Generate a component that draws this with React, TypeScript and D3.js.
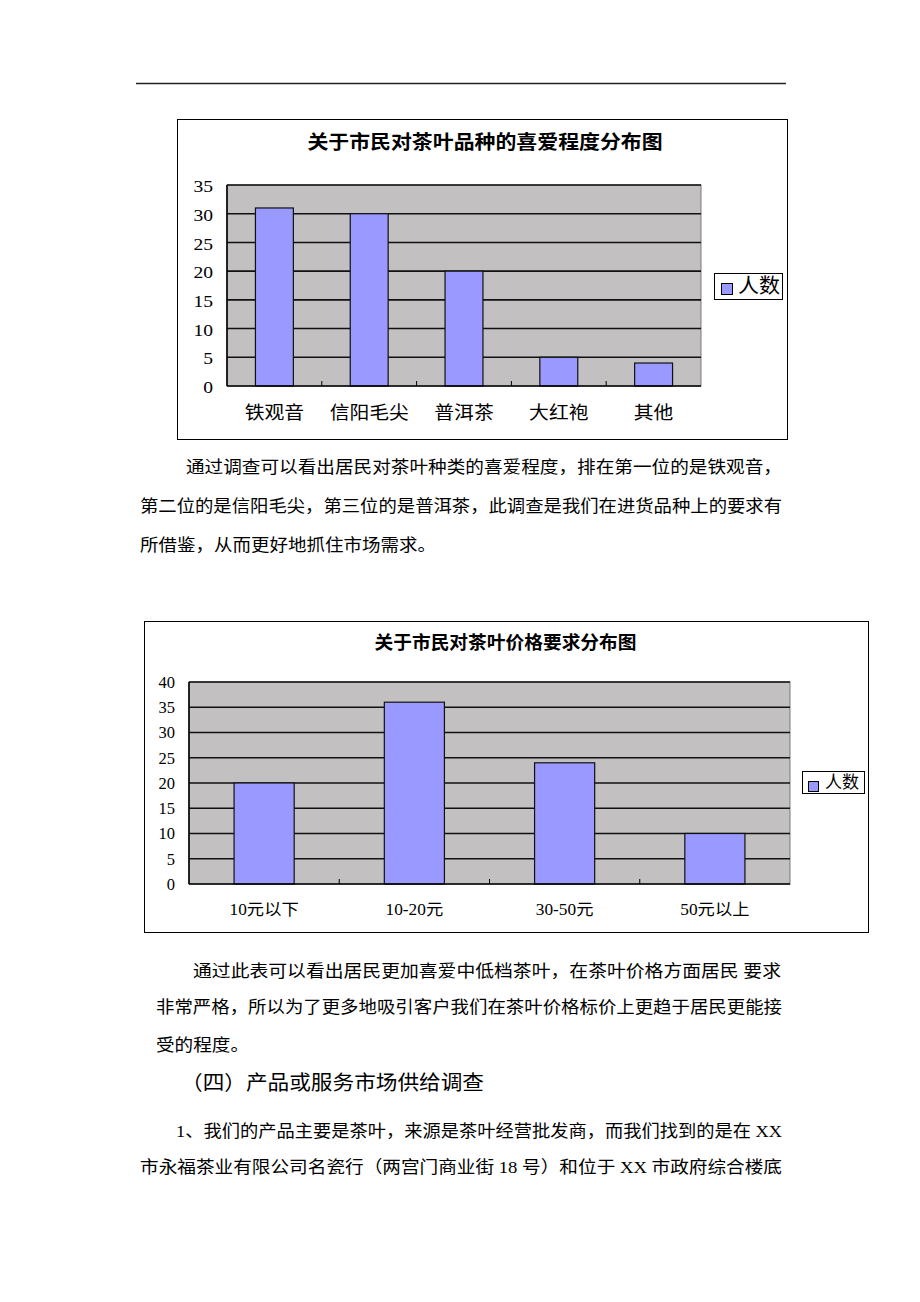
import React from 'react';
import * as d3 from 'd3';

const teaTitle = '关于市民对茶叶品种的喜爱程度分布图';
const teaCategories = ['铁观音', '信阳毛尖', '普洱茶', '大红袍', '其他'];
const teaCounts = [31, 30, 20, 5, 4];
const teaTicks = [0, 5, 10, 15, 20, 25, 30, 35];

const priceTitle = '关于市民对茶叶价格要求分布图';
const priceCategories = ['10元以下', '10-20元', '30-50元', '50元以上'];
const priceCounts = [20, 36, 24, 10];
const priceTicks = [0, 5, 10, 15, 20, 25, 30, 35, 40];

const seriesName = '人数';

const FONT = "'Liberation Serif', 'Noto Sans CJK SC', serif";
const TITLE_FONT = "'Noto Sans CJK SC', sans-serif";

type STextProps = {
  x: number; y: number; sx?: number; anchor?: string; size: number;
  weight?: string | number; family?: string; children: React.ReactNode;
};
const SText = ({ x, y, sx = 1, anchor = 'middle', size, weight = 'normal', family = FONT, children }: STextProps) => (
  <text
    transform={`translate(${x},${y}) scale(${sx},1)`}
    textAnchor={anchor as any}
    dominantBaseline="central"
    fontSize={size}
    fontWeight={weight}
    fontFamily={family}
    fill="#000"
  >
    {children}
  </text>
);

type ChartCfg = {
  frame: { x: number; y: number; w: number; h: number };
  plot: { l: number; t: number; r: number; b: number };
  title: { text: string; cx: number; cy: number; size: number; sx: number };
  cats: string[];
  vals: number[];
  ticks: number[];
  yLab: { right: number; size: number; sx: number };
  xLab: { y: number; size: number; sx: number };
  legend: { x: number; y: number; w: number; h: number; sw: number; swx: number; swy: number; tx: number; size: number; sx: number };
};

function BarChart({ cfg }: { cfg: ChartCfg }) {
  const { frame, plot, title, cats, vals, ticks, yLab, xLab, legend } = cfg;
  const yMax = d3.max(ticks) as number;
  const x = d3.scaleBand<string>().domain(cats).range([plot.l, plot.r]).paddingInner(0.6).paddingOuter(0.3);
  const y = d3.scaleLinear().domain([0, yMax]).range([plot.b, plot.t]);
  const step = x.step();
  const boundaries = d3.range(1, cats.length).map((i) => plot.l + i * step);
  return (
    <g>
      <rect x={frame.x + 0.5} y={frame.y + 0.5} width={frame.w} height={frame.h} fill="#fff" stroke="#000" strokeWidth={1} />
      <SText x={title.cx} y={title.cy} size={title.size} sx={title.sx} weight="bold" family={TITLE_FONT}>{title.text}</SText>
      <rect x={plot.l} y={plot.t} width={plot.r - plot.l} height={plot.b - plot.t} fill="#c2c0c0" stroke="#7a7a7a" strokeWidth={1} />
      {ticks.filter((t) => t > 0).map((t) => (
        <line key={'g' + t} x1={plot.l} x2={plot.r} y1={y(t)} y2={y(t)} stroke="#111" strokeWidth={1.6} />
      ))}
      {cats.map((c, i) => (
        <rect key={'b' + c} x={x(c)} y={y(vals[i])} width={x.bandwidth()} height={plot.b - y(vals[i])} fill="#9999ff" stroke="#111" strokeWidth={1.2} />
      ))}
      <line x1={plot.l} x2={plot.l} y1={plot.t} y2={plot.b} stroke="#000" strokeWidth={1.6} />
      <line x1={plot.l} x2={plot.r} y1={plot.b} y2={plot.b} stroke="#000" strokeWidth={1.6} />
      {boundaries.map((bx, i) => (
        <line key={'t' + i} x1={bx} x2={bx} y1={plot.b} y2={plot.b - 5} stroke="#000" strokeWidth={1} />
      ))}
      {ticks.map((t) => (
        <SText key={'y' + t} x={yLab.right} y={y(t) + 1} size={yLab.size} sx={yLab.sx} anchor="end">{String(t)}</SText>
      ))}
      {cats.map((c) => (
        <SText key={'x' + c} x={(x(c) as number) + x.bandwidth() / 2} y={xLab.y} size={xLab.size} sx={xLab.sx}>{c}</SText>
      ))}
      <rect x={legend.x + 0.5} y={legend.y + 0.5} width={legend.w} height={legend.h} fill="#fff" stroke="#000" strokeWidth={1} />
      <rect x={legend.swx + 0.5} y={legend.swy + 0.5} width={legend.sw} height={legend.sw} fill="#9999ff" stroke="#000" strokeWidth={1} />
      <SText x={legend.tx} y={legend.y + legend.h / 2} size={legend.size} sx={legend.sx} anchor="start">{seriesName}</SText>
    </g>
  );
}

const teaCfg: ChartCfg = {
  frame: { x: 177, y: 119, w: 610, h: 320 },
  plot: { l: 227, t: 185, r: 701, b: 386 },
  title: { text: teaTitle, cx: 485, cy: 141, size: 19, sx: 1.1 },
  cats: teaCategories,
  vals: teaCounts,
  ticks: teaTicks,
  yLab: { right: 213, size: 17.5, sx: 1.12 },
  xLab: { y: 413, size: 18, sx: 1.1 },
  legend: { x: 714, y: 273, w: 68, h: 26, sw: 11, swx: 721, swy: 283, tx: 738, size: 20, sx: 1.05 },
};

const priceCfg: ChartCfg = {
  frame: { x: 144, y: 621, w: 724, h: 311 },
  plot: { l: 189, t: 682, r: 790, b: 884 },
  title: { text: priceTitle, cx: 505.5, cy: 641, size: 18, sx: 1.04 },
  cats: priceCategories,
  vals: priceCounts,
  ticks: priceTicks,
  yLab: { right: 175, size: 16, sx: 1.03 },
  xLab: { y: 910, size: 16, sx: 1.08 },
  legend: { x: 802, y: 771, w: 62, h: 22, sw: 10, swx: 808, swy: 781, tx: 825, size: 17, sx: 1.0 },
};

type BodyLine = { x: number; y: number; w?: number; text: string; size?: number };
const bodyLines: BodyLine[] = [
  { x: 186, y: 467, w: 596, text: '通过调查可以看出居民对茶叶种类的喜爱程度，排在第一位的是铁观音，' },
  { x: 140, y: 506, w: 642, text: '第二位的是信阳毛尖，第三位的是普洱茶，此调查是我们在进货品种上的要求有' },
  { x: 140, y: 545, w: 296, text: '所借鉴，从而更好地抓住市场需求。' },
  { x: 193, y: 971, w: 588, text: '通过此表可以看出居民更加喜爱中低档茶叶，在茶叶价格方面居民 要求' },
  { x: 156, y: 1007, w: 626, text: '非常严格，所以为了更多地吸引客户我们在茶叶价格标价上更趋于居民更能接' },
  { x: 156, y: 1045, w: 93, text: '受的程度。' },
  { x: 181, y: 1083, w: 303, text: '（四）产品或服务市场供给调查', size: 20 },
  { x: 176, y: 1131, w: 606, text: '1、我们的产品主要是茶叶，来源是茶叶经营批发商，而我们找到的是在 XX' },
  { x: 140, y: 1167, w: 642, text: '市永福茶业有限公司名瓷行（两宫门商业街 18 号）和位于 XX 市政府综合楼底' },
];

export default function App() {
  return (
    <svg
      width={920}
      height={1302}
      viewBox="0 0 920 1302"
      style={{ position: 'absolute', left: 0, top: 0, background: '#fff' }}
    >
      <rect x={0} y={0} width={920} height={1302} fill="#fff" />
      <line x1={136} x2={786} y1={83.5} y2={83.5} stroke="#222" strokeWidth={1.5} />
      <BarChart cfg={teaCfg} />
      <BarChart cfg={priceCfg} />
      {bodyLines.map((l, i) => (
        <text
          key={i}
          x={l.x}
          y={l.y}
          dominantBaseline="central"
          fontSize={l.size ?? 17}
          fontFamily={FONT}
          textLength={l.w}
          lengthAdjust="spacingAndGlyphs"
          fill="#000"
        >
          {l.text}
        </text>
      ))}
    </svg>
  );
}
